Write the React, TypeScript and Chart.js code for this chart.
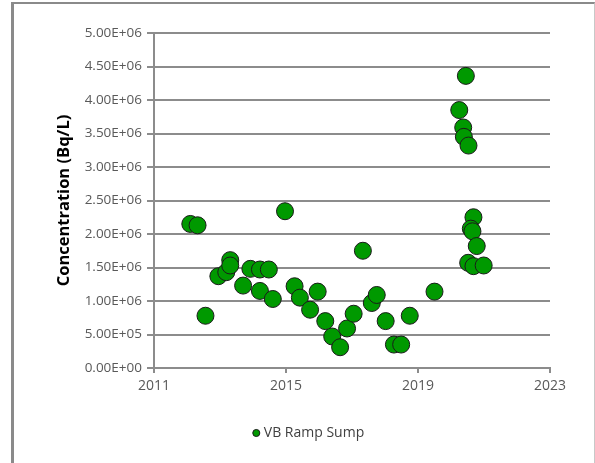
import React, { useEffect, useRef } from "react";
import { Chart, registerables } from "chart.js";

Chart.register(...registerables);

const seriesName = "VB Ramp Sump";
const sampleYears = [
  2012.10, 2012.32, 2012.56, 2012.95, 2013.19, 2013.31, 2013.31, 2013.70, 2013.92, 2014.21,
  2014.21, 2014.48, 2014.60, 2014.97, 2015.26, 2015.42, 2015.73, 2015.96, 2016.19, 2016.40,
  2016.64, 2016.85, 2017.05, 2017.33, 2017.60, 2017.75, 2018.02, 2018.27, 2018.49, 2018.75,
  2019.50, 2020.25, 2020.37, 2020.39, 2020.53, 2020.45, 2020.68, 2020.60, 2020.65, 2020.78,
  2020.52, 2020.68, 2020.99,
];
const concentrations = [
  2.15e6, 2.13e6, 0.78e6, 1.37e6, 1.43e6, 1.61e6, 1.53e6, 1.23e6, 1.48e6, 1.15e6,
  1.47e6, 1.47e6, 1.03e6, 2.34e6, 1.22e6, 1.05e6, 0.87e6, 1.14e6, 0.70e6, 0.47e6,
  0.31e6, 0.59e6, 0.81e6, 1.75e6, 0.97e6, 1.09e6, 0.70e6, 0.35e6, 0.35e6, 0.78e6,
  1.14e6, 3.85e6, 3.59e6, 3.45e6, 3.32e6, 4.36e6, 2.25e6, 2.08e6, 2.04e6, 1.82e6,
  1.57e6, 1.52e6, 1.53e6,
];
const xMin = 2011;
const xMax = 2023;
const xStep = 4;
const yMin = 0;
const yMax = 5e6;
const yStep = 5e5;
const yTitle = "Concentration (Bq/L)";

const W = 595;
const H = 463;

const legendShift = {
  id: "legendShift",
  afterLayout(chart: any) {
    const lg = chart.legend;
    if (lg) {
      lg.left += 10;
      lg.right += 10;
    }
  },
};

export default function App() {
  const ref = useRef<HTMLCanvasElement | null>(null);

  useEffect(() => {
    if (!ref.current) return;
    const points = sampleYears.map((x, i) => ({ x, y: concentrations[i] }));
    const gridColor = "#8c8c8c";
    const chart = new Chart(ref.current, {
      type: "scatter",
      data: {
        datasets: [
          {
            label: seriesName,
            data: points,
            backgroundColor: "#009900",
            borderColor: "#1a1a1a",
            borderWidth: 1,
            pointRadius: 8.5,
            pointHoverRadius: 8.5,
          },
        ],
      },
      plugins: [legendShift],
      options: {
        responsive: false,
        animation: false,
        events: [],
        layout: { padding: { left: 50, right: 45, top: 33, bottom: 13 } },
        plugins: {
          tooltip: { enabled: false },
          legend: {
            position: "bottom",
            labels: {
              usePointStyle: true,
              boxHeight: 5,
              boxWidth: 1,
              padding: 10,
              color: "#404040",
              font: { family: "'Open Sans'", size: 14 },
            },
          },
        },
        scales: {
          x: {
            type: "linear",
            min: xMin,
            max: xMax,
            afterFit: (s: any) => {
              s.height = 48;
            },
            ticks: {
              stepSize: xStep,
              color: "#595959",
              font: { family: "'Open Sans'", size: 14 },
              padding: 5,
              maxRotation: 0,
              callback: (v: any) => String(v),
            },
            grid: {
              drawOnChartArea: false,
              drawTicks: true,
              tickLength: 5,
              color: gridColor,
              lineWidth: 2,
            },
            border: { display: true, color: gridColor, width: 2 },
          },
          y: {
            type: "linear",
            min: yMin,
            max: yMax,
            afterFit: (s: any) => {
              s.width = 104;
            },
            title: {
              display: true,
              text: yTitle,
              color: "#000000",
              font: { family: "'Open Sans'", size: 16.5, weight: "bold" },
              padding: { top: 4, bottom: 4 },
            },
            ticks: {
              stepSize: yStep,
              color: "#595959",
              font: { family: "'Open Sans'", size: 13.5 },
              padding: 5,
              callback: (v: any) => {
                const n = Number(v);
                if (n === 0) return "0.00E+00";
                const e = Math.floor(Math.log10(n));
                const m = n / Math.pow(10, e);
                return m.toFixed(2) + "E+" + String(e).padStart(2, "0");
              },
            },
            grid: {
              drawOnChartArea: true,
              drawTicks: true,
              tickLength: 7,
              color: gridColor,
              lineWidth: 2,
            },
            border: { display: true, color: gridColor, width: 2 },
          },
        },
      },
    });
    return () => chart.destroy();
  }, []);

  return (
    <div style={{ position: "fixed", left: 0, top: 0, width: W, height: H, background: "#ffffff", overflow: "hidden" }}>
      <div
        style={{
          position: "absolute",
          left: 11,
          top: 2,
          width: 595 - 11 - 3 - 1,
          height: H,
          borderLeft: "3px solid #8a8a8a",
          borderTop: "2px solid #8a8a8a",
          borderRight: "1px solid #c8c8c8",
          boxSizing: "content-box",
        }}
      />
      <canvas ref={ref} width={W} height={H} style={{ position: "absolute", left: 0, top: 0, width: W, height: H }} />
    </div>
  );
}
